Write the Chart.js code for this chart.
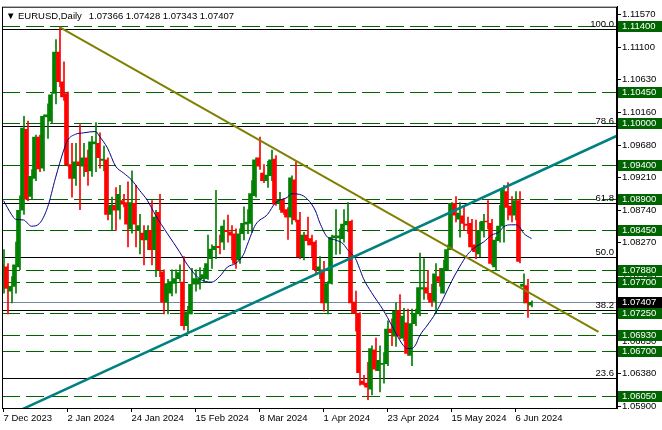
<!DOCTYPE html>
<html>
<head>
<meta charset="utf-8">
<script src="https://cdn.jsdelivr.net/npm/chart.js@4.4.1/dist/chart.umd.min.js"></script>
<style>
  html, body { margin: 0; padding: 0; background: #fff; }
</style>
</head>
<body>
<canvas id="chart" width="662" height="430"></canvas>
<script>
// --- data (bar 0 = 7 Dec 2023) ---
const symbol = "EURUSD,Daily";

const opens = [
  1.0761, 1.0792, 1.0757, 1.0764, 1.0792, 1.0874, 1.0991, 1.0894, 1.0920, 1.0980,
  1.0935, 1.1009, 1.1003, 1.1043, 1.1103, 1.1060, 1.1043, 1.0940, 1.0920, 1.0944,
  1.0938, 1.0950, 1.0931, 1.0970, 1.0971, 1.0946, 1.0947, 1.0868, 1.0881, 1.0874,
  1.0888, 1.0885, 1.0847, 1.0884, 1.0845, 1.0841, 1.0831, 1.0845, 1.0817, 1.0871,
  1.0785, 1.0741, 1.0754, 1.0768, 1.0775, 1.0770, 1.0707, 1.0724, 1.0767, 1.0767,
  1.0775, 1.0775, 1.0804, 1.0817, 1.0822, 1.0828, 1.0845, 1.0843, 1.0840, 1.0802,
  1.0840, 1.0854, 1.0855, 1.0895, 1.0950, 1.0928, 1.0917, 1.0924, 1.0948, 1.0884,
  1.0890, 1.0875, 1.0864, 1.0918, 1.0860, 1.0807, 1.0838, 1.0833, 1.0828, 1.0788,
  1.0788, 1.0740, 1.0768, 1.0834, 1.0834, 1.0833, 1.0853, 1.0858, 1.0741, 1.0725,
  1.0627, 1.0624, 1.0615, 1.0672, 1.0642, 1.0651, 1.0652, 1.0702, 1.0692, 1.0729,
  1.0689, 1.0711, 1.0664, 1.0710, 1.0724, 1.0760, 1.0762, 1.0754, 1.0742, 1.0778,
  1.0754, 1.0788, 1.0817, 1.0884, 1.0861, 1.0866, 1.0854, 1.0855, 1.0824, 1.0811,
  1.0844, 1.0858, 1.0855, 1.0792, 1.0830, 1.0851, 1.0901, 1.0880, 1.0867, 1.0888,
  1.0764, 1.0765, 1.07366
];
const highs = [
  1.0817, 1.0797, 1.0778, 1.0828, 1.0895, 1.1010, 1.1003, 1.0933, 1.0983, 1.0983,
  1.1012, 1.1028, 1.1043, 1.1121, 1.1139, 1.1089, 1.1045, 1.0971, 1.0971, 1.0998,
  1.0971, 1.0961, 1.0981, 1.1001, 1.0986, 1.0967, 1.0950, 1.0893, 1.0907, 1.0910,
  1.0897, 1.0915, 1.0931, 1.0910, 1.0868, 1.0852, 1.0852, 1.0888, 1.0874, 1.0897,
  1.0788, 1.0774, 1.0788, 1.0788, 1.0795, 1.0807, 1.0735, 1.0790, 1.0788, 1.0791,
  1.0790, 1.0838, 1.0824, 1.0903, 1.0838, 1.0860, 1.0867, 1.0852, 1.0847, 1.0847,
  1.0879, 1.0875, 1.0917, 1.0950, 1.0980, 1.0940, 1.0945, 1.0961, 1.0953, 1.0900,
  1.0891, 1.0878, 1.0924, 1.0944, 1.0871, 1.0842, 1.0864, 1.0838, 1.0830, 1.0807,
  1.0800, 1.0771, 1.0838, 1.0875, 1.0847, 1.0875, 1.0885, 1.0860, 1.0757, 1.0726,
  1.0635, 1.0654, 1.0678, 1.0689, 1.0678, 1.0668, 1.0714, 1.0717, 1.0740, 1.0752,
  1.0732, 1.0731, 1.0731, 1.0731, 1.0812, 1.0804, 1.0787, 1.0767, 1.0797, 1.0790,
  1.0802, 1.0824, 1.0885, 1.0894, 1.0885, 1.0879, 1.0864, 1.0861, 1.0860, 1.0857,
  1.0868, 1.0888, 1.0861, 1.0835, 1.0881, 1.0910, 1.0914, 1.0894, 1.0901, 1.0901,
  1.0782, 1.0774, 1.07428
];
const lows = [
  1.0754, 1.0724, 1.0740, 1.0754, 1.0788, 1.0868, 1.0888, 1.0890, 1.0917, 1.0930,
  1.0931, 1.0978, 1.1000, 1.1028, 1.1053, 1.1033, 1.0938, 1.0893, 1.0910, 1.0875,
  1.0923, 1.0910, 1.0923, 1.0930, 1.0935, 1.0931, 1.0860, 1.0845, 1.0845, 1.0861,
  1.0879, 1.0821, 1.0841, 1.0821, 1.0811, 1.0795, 1.0817, 1.0795, 1.0778, 1.0778,
  1.0724, 1.0724, 1.0750, 1.0754, 1.0771, 1.0701, 1.0695, 1.0724, 1.0757, 1.0760,
  1.0771, 1.0774, 1.0790, 1.0804, 1.0811, 1.0817, 1.0828, 1.0802, 1.0790, 1.0797,
  1.0831, 1.0840, 1.0842, 1.0893, 1.0933, 1.0914, 1.0907, 1.0917, 1.0881, 1.0875,
  1.0868, 1.0832, 1.0854, 1.0857, 1.0804, 1.0802, 1.0824, 1.0807, 1.0781, 1.0775,
  1.0728, 1.0724, 1.0767, 1.0810, 1.0811, 1.0828, 1.0843, 1.0725, 1.0699, 1.0621,
  1.0621, 1.0600, 1.0607, 1.0642, 1.0611, 1.0624, 1.0649, 1.0678, 1.0677, 1.0688,
  1.0685, 1.0664, 1.0649, 1.0707, 1.0721, 1.0745, 1.0745, 1.0735, 1.0725, 1.0764,
  1.0754, 1.0788, 1.0817, 1.0857, 1.0835, 1.0845, 1.0840, 1.0817, 1.0804, 1.0807,
  1.0835, 1.0847, 1.0795, 1.0788, 1.0828, 1.0828, 1.0860, 1.0857, 1.0860, 1.0798,
  1.0740, 1.0719, 1.07343
];
const closes = [
  1.0795, 1.0761, 1.0764, 1.0795, 1.0874, 1.0993, 1.0890, 1.0923, 1.0980, 1.0934,
  1.1010, 1.1012, 1.1041, 1.1103, 1.1060, 1.1038, 1.0940, 1.0920, 1.0944, 1.0940,
  1.0950, 1.0930, 1.0973, 1.0973, 1.0950, 1.0948, 1.0868, 1.0881, 1.0874, 1.0897,
  1.0883, 1.0854, 1.0885, 1.0854, 1.0852, 1.0831, 1.0845, 1.0817, 1.0864, 1.0788,
  1.0741, 1.0768, 1.0771, 1.0775, 1.0784, 1.0707, 1.0727, 1.0767, 1.0775, 1.0775,
  1.0781, 1.0797, 1.0818, 1.0822, 1.0820, 1.0851, 1.0843, 1.0838, 1.0797, 1.0840,
  1.0855, 1.0857, 1.0898, 1.0947, 1.0938, 1.0917, 1.0925, 1.0947, 1.0883, 1.0888,
  1.0871, 1.0864, 1.0921, 1.0860, 1.0807, 1.0838, 1.0830, 1.0824, 1.0788, 1.0792,
  1.0740, 1.0768, 1.0835, 1.0837, 1.0837, 1.0854, 1.0858, 1.0740, 1.0725, 1.0639,
  1.0622, 1.0618, 1.0674, 1.0644, 1.0657, 1.0652, 1.0702, 1.0697, 1.0728, 1.0692,
  1.0721, 1.0667, 1.0710, 1.0725, 1.0762, 1.0762, 1.0754, 1.0741, 1.0782, 1.0771,
  1.0790, 1.0817, 1.0884, 1.0867, 1.0870, 1.0855, 1.0852, 1.0821, 1.0814, 1.0845,
  1.0858, 1.0857, 1.0797, 1.0831, 1.0851, 1.0904, 1.0878, 1.0867, 1.0888, 1.0800,
  1.0767, 1.0740, 1.07407
];

// moving average, read at a subset of bars
const maIdx = [0, 2, 3, 5, 7, 9, 11, 13, 15, 16, 18, 20, 23, 24, 26, 28, 30, 32, 34, 36,
  38, 41, 44, 46, 49, 52, 54, 56, 58, 60, 61, 63, 66, 68, 71, 72, 74, 76, 78, 79,
  81, 83, 85, 86, 88, 89, 90, 92, 95, 97, 98, 100, 101, 102, 103, 104, 106, 108, 110, 112,
  114, 116, 118, 120, 122, 124, 125, 127, 128, 129, 130, 132];
const maVals = [1.0888, 1.0868, 1.0861, 1.0860, 1.0851, 1.0855, 1.0878, 1.0921, 1.0960, 1.0975,
  1.0984, 1.0986, 1.0988, 1.0981, 1.0964, 1.0938, 1.0928, 1.0918, 1.0903, 1.0888,
  1.0867, 1.0840, 1.0814, 1.0795, 1.0775, 1.0770, 1.0778, 1.0792, 1.0797, 1.0810,
  1.0825, 1.0853, 1.0868, 1.0885, 1.0893, 1.0898, 1.0897, 1.0890, 1.0873, 1.0857,
  1.0835, 1.0831, 1.0825, 1.0817, 1.0804, 1.0790, 1.0775, 1.0755, 1.0729, 1.0708,
  1.0697, 1.0678, 1.0674, 1.0674, 1.0679, 1.0692, 1.0708, 1.0725, 1.0747, 1.0771,
  1.0792, 1.0810, 1.0821, 1.0828, 1.0838, 1.0843, 1.0850, 1.0853, 1.0853, 1.0850,
  1.0841, 1.0833];

// trend lines (bar index, price)
const fallX = [14, 148.75];
const fallY = [1.1139, 1.0698];
const riseX = [-2, 153.4];
const riseY = [1.05683, 1.09819];

const levels = [1.1140, 1.1045, 1.1000, 1.0940, 1.0890, 1.0845, 1.0788, 1.0770, 1.0725, 1.0693, 1.0670, 1.0605];
const fibLevels = [1.1137, 1.0996, 1.0885, 1.0807, 1.0729, 1.0632];
const fibLabels = ["100.0", "78.6", "61.8", "50.0", "38.2", "23.6"];
const priceTicks = [1.1157, 1.1110, 1.1063, 1.1016, 1.0968, 1.0921, 1.0874, 1.0827, 1.0779, 1.0732, 1.0685, 1.0638, 1.0590];
const tickIdx = [0, 16, 32, 48, 64, 80, 96, 112, 128];
const tickLabels = ["7 Dec 2023", "2 Jan 2024", "24 Jan 2024", "15 Feb 2024", "8 Mar 2024",
  "1 Apr 2024", "23 Apr 2024", "15 May 2024", "6 Jun 2024"];

const UP = "#008000";
const DOWN = "#ff0000";
const FONT = "Liberation Sans, Arial, sans-serif";
const last = closes.length - 1;
const bid = closes[last];
const candleColors = closes.map((c, i) => (c >= opens[i] ? UP : DOWN));

// levels, frame, title, price boxes
const overlay = {
  id: "overlay",
  beforeDatasetsDraw(chart) {
    const { ctx, chartArea: a, scales } = chart;
    const y = scales.y;
    const hline = (v, color, dash) => {
      const py = Math.round(y.getPixelForValue(v)) + 0.5;
      ctx.strokeStyle = color;
      ctx.setLineDash(dash);
      ctx.beginPath();
      ctx.moveTo(a.left, py);
      ctx.lineTo(a.right, py);
      ctx.stroke();
    };
    ctx.save();
    ctx.beginPath();
    ctx.rect(a.left, a.top, a.right - a.left, a.bottom - a.top);
    ctx.clip();
    ctx.lineWidth = 1;
    levels.forEach(v => hline(v, "#006400", [18, 6]));
    fibLevels.forEach(v => hline(v, "#000000", []));
    hline(bid, "#778899", []);
    ctx.restore();
  },
  afterDraw(chart) {
    const { ctx, chartArea: a, scales } = chart;
    const y = scales.y;
    ctx.save();
    // frame
    ctx.strokeStyle = "#000";
    ctx.lineWidth = 1;
    ctx.strokeRect(a.left + 0.5, a.top + 0.5, a.right - a.left - 1, a.bottom - a.top);

    // fibo labels
    ctx.font = "9.5px " + FONT;
    ctx.fillStyle = "#000";
    ctx.textAlign = "right";
    ctx.textBaseline = "alphabetic";
    fibLevels.forEach((v, k) => {
      const py = Math.round(y.getPixelForValue(v));
      ctx.fillText(fibLabels[k], a.right - 3, py - 2);
    });

    // title
    ctx.textAlign = "left";
    ctx.fillText("\u25BC", a.left + 4, a.top + 12);
    ctx.fillText(symbol, a.left + 16, a.top + 12);
    const w = ctx.measureText(symbol).width;
    const ohlc = [opens[last], highs[last], lows[last], closes[last]].map(v => v.toFixed(5)).join(" ");
    ctx.fillText(ohlc, a.left + 16 + w + 7, a.top + 12);

    // price boxes on the axis
    ctx.textBaseline = "middle";
    const box = (v, bg) => {
      const py = Math.round(y.getPixelForValue(v));
      ctx.fillStyle = bg;
      ctx.fillRect(a.right + 1, py - 5, chart.width - a.right - 1, 11);
      ctx.fillStyle = "#fff";
      ctx.fillText(v.toFixed(5), a.right + 5, py + 0.5);
    };
    levels.forEach(v => box(v, "#006400"));
    box(bid, "#000000");
    ctx.restore();
  }
};

new Chart(document.getElementById("chart"), {
  type: "bar",
  data: {
    datasets: [
      {
        label: "wicks",
        data: highs.map((h, i) => ({ x: i, y: [lows[i], h] })),
        backgroundColor: candleColors,
        barThickness: 1,
        minBarLength: 1,
        order: 4
      },
      {
        label: "bodies",
        data: opens.map((o, i) => ({ x: i, y: [o, closes[i]] })),
        backgroundColor: candleColors,
        barThickness: 3,
        minBarLength: 1,
        order: 3
      },
      {
        type: "line",
        label: "MA",
        data: maIdx.map((x, k) => ({ x: x, y: maVals[k] })),
        borderColor: "#000080",
        borderWidth: 1,
        pointRadius: 0,
        cubicInterpolationMode: "monotone",
        order: 2
      },
      {
        type: "line",
        label: "falling",
        data: fallX.map((x, k) => ({ x: x, y: fallY[k] })),
        borderColor: "#808000",
        borderWidth: 2,
        pointRadius: 0,
        order: 1
      },
      {
        type: "line",
        label: "rising",
        data: riseX.map((x, k) => ({ x: x, y: riseY[k] })),
        borderColor: "#008080",
        borderWidth: 2.5,
        pointRadius: 0,
        order: 0
      }
    ]
  },
  options: {
    responsive: false,
    devicePixelRatio: 1,
    animation: false,
    layout: { padding: { left: 2, top: 2, right: 0, bottom: 0 } },
    plugins: {
      legend: { display: false },
      tooltip: { enabled: false }
    },
    scales: {
      x: {
        type: "linear",
        offset: false,
        min: -0.375,
        max: 153.375,
        afterBuildTicks: s => { s.ticks = tickIdx.map(v => ({ value: v })); },
        afterFit: s => { s.height = 22; },
        grid: { offset: false, drawOnChartArea: false, tickLength: 4, color: "#000" },
        border: { color: "#000" },
        ticks: {
          autoSkip: false,
          maxRotation: 0,
          align: "start",
          padding: 1,
          color: "#000",
          font: { family: FONT, size: 9.5 },
          callback: v => tickLabels[tickIdx.indexOf(v)] || ""
        }
      },
      y: {
        type: "linear",
        position: "right",
        min: 1.05879,
        max: 1.11686,
        afterBuildTicks: s => { s.ticks = priceTicks.map(v => ({ value: v })); },
        afterFit: s => { s.width = 45; },
        grid: { drawOnChartArea: false, tickLength: 4, color: "#000" },
        border: { color: "#000" },
        ticks: {
          padding: 1,
          color: "#000",
          font: { family: FONT, size: 9.5 },
          callback: v => Number(v).toFixed(5)
        }
      }
    }
  },
  plugins: [overlay]
});
</script>
</body>
</html>
